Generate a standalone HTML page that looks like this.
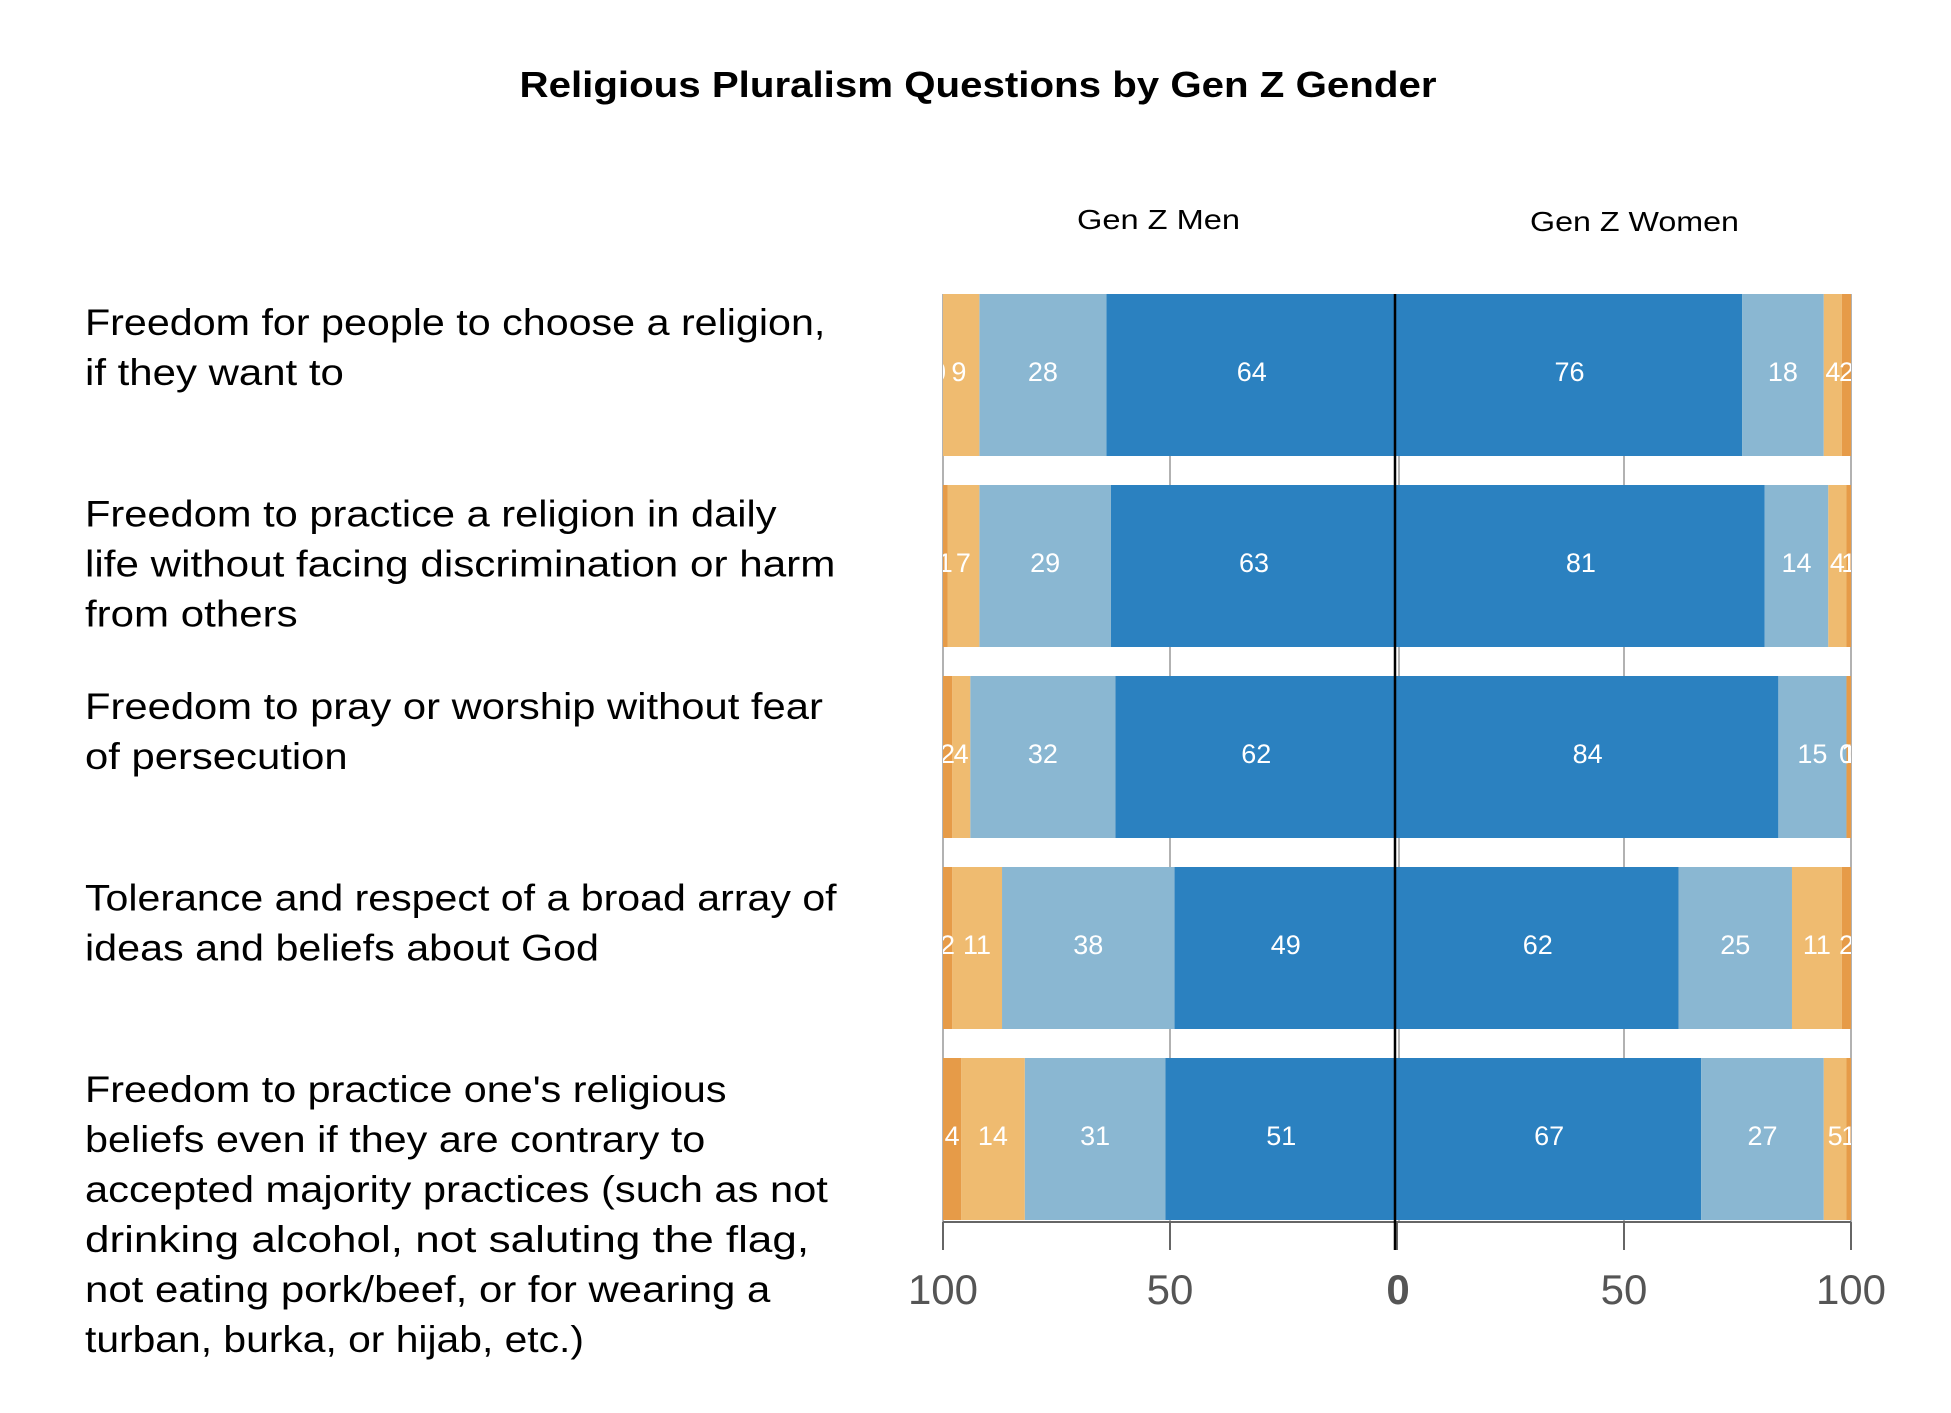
<!DOCTYPE html>
<html><head><meta charset="utf-8"><style>
html,body{margin:0;padding:0;background:#fff;}
svg{display:block;font-family:"Liberation Sans",sans-serif;}
</style></head><body>
<svg id="chart" width="1951" height="1413" viewBox="0 0 1951 1413" xmlns="http://www.w3.org/2000/svg">
<rect width="1951" height="1413" fill="#fff"/>
<text x="978" y="97" text-anchor="middle" font-size="36" font-weight="bold" textLength="917" lengthAdjust="spacingAndGlyphs">Religious Pluralism Questions by Gen Z Gender</text>
<text x="1077" y="229" font-size="28" textLength="163" lengthAdjust="spacingAndGlyphs">Gen Z Men</text>
<text x="1530" y="231" font-size="28" textLength="209" lengthAdjust="spacingAndGlyphs">Gen Z Women</text>
<defs>
<clipPath id="clipM"><rect x="943" y="280" width="454" height="960"/></clipPath>
<clipPath id="clipW"><rect x="1397" y="280" width="454" height="960"/></clipPath>
</defs>
<g id="grid"></g>
<g id="bars"></g>
<g id="labels"></g>
<g id="axis"></g>
<g id="questions"></g>
</svg>
<script>
const categories = [
 ["Freedom for people to choose a religion,","if they want to"],
 ["Freedom to practice a religion in daily","life without facing discrimination or harm","from others"],
 ["Freedom to pray or worship without fear","of persecution"],
 ["Tolerance and respect of a broad array of","ideas and beliefs about God"],
 ["Freedom to practice one's religious","beliefs even if they are contrary to","accepted majority practices (such as not","drinking alcohol, not saluting the flag,","not eating pork/beef, or for wearing a","turban, burka, or hijab, etc.)"]
];
// segments from center outward: very important, somewhat, not too, not at all
const menVery = [64,63,62,49,51];
const menSomewhat = [28,29,32,38,31];
const menNotToo = [9,7,4,11,14];
const menNotAll = [0,1,2,2,4];
const womenVery = [76,81,84,62,67];
const womenSomewhat = [18,14,15,25,27];
const womenNotToo = [4,4,0,11,5];
const womenNotAll = [2,1,1,2,1];
const tickValues = [100,50,0,50,100];

const NS="http://www.w3.org/2000/svg";
const zeroX=1397, unit=4.54, barTop0=294, barH=162, pitch=191;
const colors=["#2b81c0","#8ab7d2","#efbb70","#e69b48"];
const segNames=["very-important","somewhat-important","not-too-important","not-at-all-important"];
function xMen(v){return zeroX - v*unit;}
function xWomen(v){return zeroX + v*unit;}
function yRow(i){return barTop0 + i*pitch;}
function el(tag,attrs,parent){const e=document.createElementNS(NS,tag);for(const k in attrs)e.setAttribute(k,attrs[k]);parent.appendChild(e);return e;}

const grid=document.getElementById('grid'), bars=document.getElementById('bars'), labels=document.getElementById('labels'), axis=document.getElementById('axis'), qs=document.getElementById('questions');
[xMen(100),xMen(50),xWomen(50),xWomen(100),zeroX+2].forEach(x=>{
 const l=el('line',{x1:x,x2:x,y1:294,y2:1222,stroke:'#999','stroke-width':1.5},grid);
 
 
});
const menSeries=[menVery,menSomewhat,menNotToo,menNotAll];
const womenSeries=[womenVery,womenSomewhat,womenNotToo,womenNotAll];
for(let i=0;i<categories.length;i++){
 const y=yRow(i);
 let cum=0;
 const gm=el('g',{'clip-path':'url(#clipM)'},bars);
 menSeries.forEach((s,k)=>{
  const v=s[i];
  const r=el('rect',{x:xMen(cum+v),y:y,width:v*unit,height:barH,fill:colors[k]},gm);
  
  
  const t=el('text',{x:xMen(cum+v/2),y:y+barH/2+6,'text-anchor':'middle','font-size':27,fill:'#fff'},labels);
  
  
  t.setAttribute('clip-path','url(#clipM)');
  t.textContent=v;
  cum+=v;
 });
 cum=0;
 const gw=el('g',{'clip-path':'url(#clipW)'},bars);
 womenSeries.forEach((s,k)=>{
  const v=s[i];
  const r=el('rect',{x:xWomen(cum),y:y,width:v*unit,height:barH,fill:colors[k]},gw);
  
  
  const t=el('text',{x:xWomen(cum+v/2),y:y+barH/2+6,'text-anchor':'middle','font-size':27,fill:'#fff'},labels);
  
  
  t.setAttribute('clip-path','url(#clipW)');
  t.textContent=v;
  cum+=v;
 });
}
const base=el('line',{x1:xMen(100),x2:xWomen(100),y1:1222,y2:1222,stroke:'#666','stroke-width':2},axis);


const tickXs=[xMen(100),xMen(50),zeroX,xWomen(50),xWomen(100)];
tickValues.forEach((v,j)=>{
 const x=tickXs[j];
 const tk=el('line',{x1:x,x2:x,y1:1222,y2:1250,stroke:'#666','stroke-width':2},axis);
 
 
 const t=el('text',{x:x+(j===2?1:0),y:1304,'text-anchor':'middle','font-size':42,fill:'#555','font-weight':j===2?'bold':'normal'},axis);
 
 
 t.textContent=v;
});
const zl=el('line',{x1:zeroX-2,x2:zeroX-2,y1:294,y2:1250,stroke:'#000','stroke-width':2.5},axis);


const lineWidths=[[592,207],[553,600,170],[590,210],[601,411],[513,496,594,579,548,399]];
const firstBase=[268,421,575,728,881];
categories.forEach((lines,i)=>{
 const g=el('g',{},qs);
 
 
 lines.forEach((ln,j)=>{
  const t=el('text',{x:85,y:(firstBase[i]+j*40)*1.2506,'font-size':37,fill:'#000',textLength:lineWidths[i][j]*1.2506,lengthAdjust:'spacingAndGlyphs'},g);
  t.textContent=ln;
 });
});
</script>
</body></html>
